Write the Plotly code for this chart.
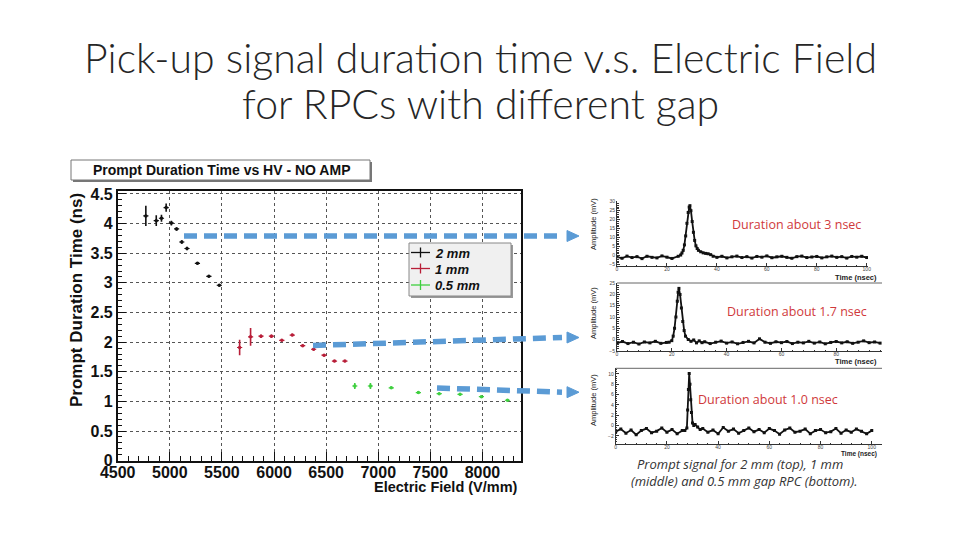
import plotly.graph_objects as go

# the page body keeps its default 8px margin, so the figure is drawn 8px in
OFFSET = 8
W, H = 960 - 2 * OFFSET, 540 - 2 * OFFSET

# ---- main chart: prompt duration time (ns) vs electric field (V/mm) ----
FIELD_2MM = [4770, 4870, 4920, 4965, 5015, 5065, 5115, 5165, 5265, 5375, 5475]
TIME_2MM = [4.13, 4.05, 4.09, 4.27, 4.01, 3.91, 3.69, 3.58, 3.33, 3.11, 2.96]
ERR_2MM = [0.17, 0.09, 0.06, 0.07, 0.04, 0.03, 0.03, 0.03, 0.02, 0.02, 0.02]

FIELD_1MM = [5670, 5775, 5875, 5975, 6075, 6175, 6275, 6380, 6480, 6580, 6680]
TIME_1MM = [1.91, 2.09, 2.10, 2.10, 2.03, 2.12, 1.94, 1.88, 1.78, 1.68, 1.68]
ERR_1MM = [0.13, 0.15, 0.03, 0.03, 0.02, 0.02, 0.02, 0.02, 0.02, 0.02, 0.02]

FIELD_05MM = [6775, 6925, 7125, 7385, 7585, 7785, 7990, 8240]
TIME_05MM = [1.26, 1.26, 1.23, 1.15, 1.13, 1.12, 1.08, 1.02]
ERR_05MM = [0.05, 0.05, 0.02, 0.02, 0.02, 0.02, 0.02, 0.02]

FIELD_ERR = 25
LEGEND_LABELS = ["2 mm", "1 mm", "0.5 mm"]

# ---- waveforms (time in nsec, amplitude in mV) ----
WF1_T = [0, 2, 4, 6, 8, 10, 12, 14, 16, 18, 20, 22,
         24.5, 25.5, 26, 26.5, 27, 27.5, 28, 28.5, 28.9, 29.2, 29.6, 30.1,
         30.6, 31.1, 31.6, 32.1, 32.6, 33.5, 34.5, 35.5, 36.5, 37.5, 38.5,
         40, 42, 44, 46, 48, 50, 52, 54, 56, 58, 60, 62, 64, 66, 68, 70,
         72, 74, 76, 78, 80, 82, 84, 86, 88, 90, 92, 94, 96, 98, 100]
WF1_A = [-0.6, -1.4, -0.2, -1.0, -0.5, -1.6, -0.3, -0.9, -1.2, -0.1, -0.8, -1.5,
         -0.3, 0.4, 1.5, 3, 6, 11, 18, 24, 27, 27.8, 25, 19,
         13, 8.5, 5.5, 4, 3, 2.2, 1.6, 1.3, 1.1, 0.6, -0.3,
         -0.9, -0.3, -1.2, -0.6, -0.2, -1.0, -0.5, -1.3, -0.4, -0.8, -0.1, -1.1, -0.6, -0.3, -0.9, -1.4,
         -0.5, -0.2, -1.0, -0.7, -0.4, -1.2, -0.6, -0.2, -0.9, -0.5, -1.3, -0.4, -0.8, -0.3, -1.0]

WF2_T = [0, 2, 4, 6, 8, 10, 12, 14, 16, 18,
         19, 20, 20.5, 21, 21.5, 22, 22.3, 22.6, 23, 23.5, 24, 24.5, 25, 26, 27, 28, 29, 30, 31,
         32, 34, 36, 38, 40, 42, 44, 46, 48, 50, 52, 54, 56, 58, 60, 62, 64,
         66, 68, 70, 72, 74, 76, 78, 80, 82, 84, 86, 88, 90, 92, 94, 96]
WF2_A = [-1.6, -0.9, -1.8, -1.2, -2.0, -1.1, -1.5, -0.8, -1.7, -1.3,
         -1.2, -0.5, 1.5, 5, 10, 17, 21, 22.7, 20, 14, 8, 4, 1.5, 0, -0.8, -0.2, -1.5, -0.6, -1.4,
         -1.0, -1.8, -1.2, -0.7, -1.6, -1.1, -1.9, -1.3, -0.8, -1.5, 0.3, -1.2, -1.7, -1.0, -1.4, -0.9, -1.8,
         -1.2, -1.5, -0.8, -1.6, -1.1, -1.9, -1.3, -0.9, -1.5, -1.0, -1.7, -1.2, -0.6, -1.4, -1.1, -1.6]

WF3_T = [0, 2, 4, 6, 8, 10, 12, 14, 16, 18, 20, 22, 24, 26,
         27, 27.8, 28.1, 28.4, 28.7, 29, 29.3, 29.6, 30, 30.5, 31, 32, 33,
         34, 36, 38, 40, 42, 44, 46, 48, 50, 52, 54, 56, 58, 60, 62, 64, 66,
         68, 70, 72, 74, 76, 78, 80, 82, 84, 86, 88, 90, 92, 94, 96, 98, 100]
WF3_A = [-1.2, -0.7, -1.5, -0.9, -1.8, -1.0, -0.6, -1.4, -1.1, -0.5, -1.3, -0.8, -1.6, -1.0,
         -1.0, -0.5, 3, 7, 10.1, 8, 5, 2.5, 0.5, 0, 0.2, -0.3, -0.8,
         -0.6, -1.3, -0.9, -1.6, -0.4, -1.1, -0.7, -1.5, -1.0, -0.5, -1.2, -0.8, -1.4, -0.6, -1.0, -1.7, -0.9,
         -0.5, -1.3, -1.1, -0.7, -1.6, -1.0, -0.8, -1.4, -1.2, -0.6, -1.5, -0.9, -1.3, -0.7, -1.1, -1.6, -1.0]

ARROW_BLUE = "#5b9bd5"
SERIES_COLORS = ["#111111", "#b81e38", "#3fcf3f"]
ROOT_FONT = "Liberation Sans, Arial, sans-serif"


def px(x):
    return (x - OFFSET) / W


def py(y):
    return 1 - (y - OFFSET) / H


fig = go.Figure()

series = [(FIELD_2MM, TIME_2MM, ERR_2MM), (FIELD_1MM, TIME_1MM, ERR_1MM),
          (FIELD_05MM, TIME_05MM, ERR_05MM)]
for (xs, ys, errs), name, color in zip(series, LEGEND_LABELS, SERIES_COLORS):
    fig.add_trace(go.Scatter(
        x=xs, y=ys, mode="markers", name=name, showlegend=False,
        marker=dict(size=3.5, color=color),
        error_y=dict(type="data", array=errs, color=color, thickness=1.6, width=0),
        error_x=dict(type="constant", value=FIELD_ERR, color=color, thickness=1.2, width=0),
        xaxis="x", yaxis="y"))

for i, (ts, amps) in enumerate([(WF1_T, WF1_A), (WF2_T, WF2_A), (WF3_T, WF3_A)], start=2):
    fig.add_trace(go.Scatter(
        x=ts, y=amps, mode="lines+markers", showlegend=False,
        line=dict(color="#111111", width=1.8),
        marker=dict(size=3, color="#111111", symbol="square"),
        xaxis=f"x{i}", yaxis=f"y{i}"))

main_tick = dict(family=ROOT_FONT, size=16, color="#111111", weight="bold")
main_axis = dict(showline=True, linecolor="#111111", linewidth=1.5, mirror=True,
                 ticks="inside", ticklen=9, tickcolor="#111111", tickfont=main_tick,
                 showgrid=True, gridcolor="#555555", griddash="dot", gridwidth=1,
                 zeroline=False, automargin=False)

fig.update_layout(
    xaxis=dict(domain=[px(117.7), px(520.5)], range=[4500, 8365], tick0=4500, dtick=500,
               anchor="y", ticklabelstandoff=-4,
               minor=dict(dtick=100, ticks="inside", ticklen=5, tickcolor="#111111"),
               **main_axis),
    yaxis=dict(domain=[py(460.7), py(191)], range=[0, 4.55], tick0=0, dtick=0.5,
               anchor="x", minor=dict(dtick=0.1, ticks="inside", ticklen=5, tickcolor="#111111"),
               **main_axis),
)

small_tick = dict(family=ROOT_FONT, size=5, color="#444444")
small_axis = dict(showline=True, linecolor="#333333", linewidth=1, ticks="inside",
                  ticklen=3, tickcolor="#333333", tickfont=small_tick,
                  showgrid=False, zeroline=False, automargin=False)

wf_frames = [
    # x domain px, x range, y domain px (bottom, top), y range, y dtick
    ((617, 868), [0, 100.5], (266, 201), [-5.7, 30.4], 5),
    ((617, 882), [0, 96.7], (351, 283), [-5.1, 25.1], 5),
    ((615.7, 882), [0, 104], (444, 368.3), [-3.6, 11.1], 2),
]
for i, (xd, xr, yd, yr, ydt) in enumerate(wf_frames, start=2):
    fig.update_layout(**{
        f"xaxis{i}": dict(domain=[px(xd[0]), px(xd[1])], range=xr, dtick=20, anchor=f"y{i}",
                          ticklabelstandoff=-2,
                          minor=dict(dtick=4, ticks="inside", ticklen=1.5, tickcolor="#333333"),
                          **small_axis),
        f"yaxis{i}": dict(domain=[py(yd[0]), py(yd[1])], range=yr, dtick=ydt, anchor=f"x{i}",
                          minor=dict(dtick=ydt / 5, ticks="inside", ticklen=1.5, tickcolor="#333333"),
                          **small_axis),
    })

shapes = []

# title box with shadow
shapes.append(dict(type="rect", xref="paper", yref="paper", x0=px(73), x1=px(372),
                   y0=py(182), y1=py(162), fillcolor="#777777", line=dict(width=0)))
shapes.append(dict(type="rect", xref="paper", yref="paper", x0=px(71), x1=px(370),
                   y0=py(180), y1=py(160), fillcolor="white", line=dict(color="#777777", width=1)))

# legend box
shapes.append(dict(type="rect", xref="paper", yref="paper", x0=px(411), x1=px(513),
                   y0=py(298), y1=py(245), fillcolor="#999999", line=dict(width=0), layer="above"))
shapes.append(dict(type="rect", xref="paper", yref="paper", x0=px(409), x1=px(511),
                   y0=py(296), y1=py(243), fillcolor="#f0f0f0", line=dict(color="#888888", width=1),
                   layer="above"))
for ly, color in zip([252.5, 268.5, 285], SERIES_COLORS):
    shapes.append(dict(type="line", xref="paper", yref="paper", x0=px(411), x1=px(430),
                       y0=py(ly), y1=py(ly), line=dict(color=color, width=1.3), layer="above"))
    shapes.append(dict(type="line", xref="paper", yref="paper", x0=px(420.5), x1=px(420.5),
                       y0=py(ly - 5), y1=py(ly + 5), line=dict(color=color, width=1.3), layer="above"))

# top frame lines of the lower two waveform panels
for yy, x0 in [(283, 617), (368.3, 615.7)]:
    shapes.append(dict(type="line", xref="paper", yref="paper", x0=px(x0), x1=px(882),
                       y0=py(yy), y1=py(yy), line=dict(color="#666666", width=1)))

# blue dashed arrows
arrows = [((184, 236), (562, 236)), ((313, 345.5), (562, 337.5)), ((437, 388), (562, 392.2))]
for (x0, y0), (x1, y1) in arrows:
    shapes.append(dict(type="line", xref="paper", yref="paper", x0=px(x0), y0=py(y0),
                       x1=px(x1), y1=py(y1), layer="above",
                       line=dict(color=ARROW_BLUE, width=5.5, dash="13px,7px")))
    path = (f"M {px(567)},{py(y1 - 5.5)} L {px(579)},{py(y1)} "
            f"L {px(567)},{py(y1 + 5.5)} Z")
    shapes.append(dict(type="path", xref="paper", yref="paper", path=path, layer="above",
                       fillcolor=ARROW_BLUE, line=dict(color=ARROW_BLUE, width=1)))

fig.update_layout(shapes=shapes)


def note(text, x, y, size, color="#111111", family=ROOT_FONT, weight="normal",
         style="normal", xanchor="center", angle=0):
    fig.add_annotation(text=text, x=px(x), y=py(y), xref="paper", yref="paper",
                       xanchor=xanchor, yanchor="middle", showarrow=False, textangle=angle,
                       font=dict(family=family, size=size, color=color, weight=weight,
                                 style=style))


TITLE_FONT = "Lato, Open Sans, sans-serif"
note("Pick-up signal duration time v.s. Electric Field", 480, 58, 41, "#262626",
     TITLE_FONT, weight=300)
note("for RPCs with different gap", 480, 104, 41, "#262626", TITLE_FONT, weight=300)

note("Prompt Duration Time vs HV - NO AMP", 221, 170, 14, weight="bold")
note("Prompt Duration Time (ns)", 76, 300, 17, weight="bold", angle=-90)
note("Electric Field (V/mm)", 520, 487, 14.5, weight="bold", xanchor="right")

for ly, label in zip([253, 269, 285.5], LEGEND_LABELS):
    note(label, 433, ly, 13, weight="bold", style="italic", xanchor="left")

for yy in [224, 313, 400]:
    note("Amplitude (mV)", 593, yy, 7.5, "#222222", angle=-90)
for yy, size in [(277, 7.5), (361, 7.5), (454, 6.5)]:
    note("Time (nsec)", 879, yy, size, "#222222", weight="bold", xanchor="right")

RED_TEXT = "#d0393b"
NOTE_FONT = "Open Sans, sans-serif"
note("Duration about 3 nsec", 796, 224, 12.5, RED_TEXT, NOTE_FONT)
note("Duration about 1.7 nsec", 797, 311, 12.5, RED_TEXT, NOTE_FONT)
note("Duration about 1.0 nsec", 768, 399, 12.5, RED_TEXT, NOTE_FONT)

note("Prompt signal for 2 mm (top), 1 mm", 740, 463.5, 13, "#333333", NOTE_FONT, style="italic")
note("(middle) and 0.5 mm gap RPC (bottom).", 744, 480.5, 13, "#333333", NOTE_FONT, style="italic")

fig.update_layout(width=W, height=H, margin=dict(l=0, r=0, t=0, b=0),
                  paper_bgcolor="white", plot_bgcolor="white", showlegend=False)

fig.write_html("out.html")
